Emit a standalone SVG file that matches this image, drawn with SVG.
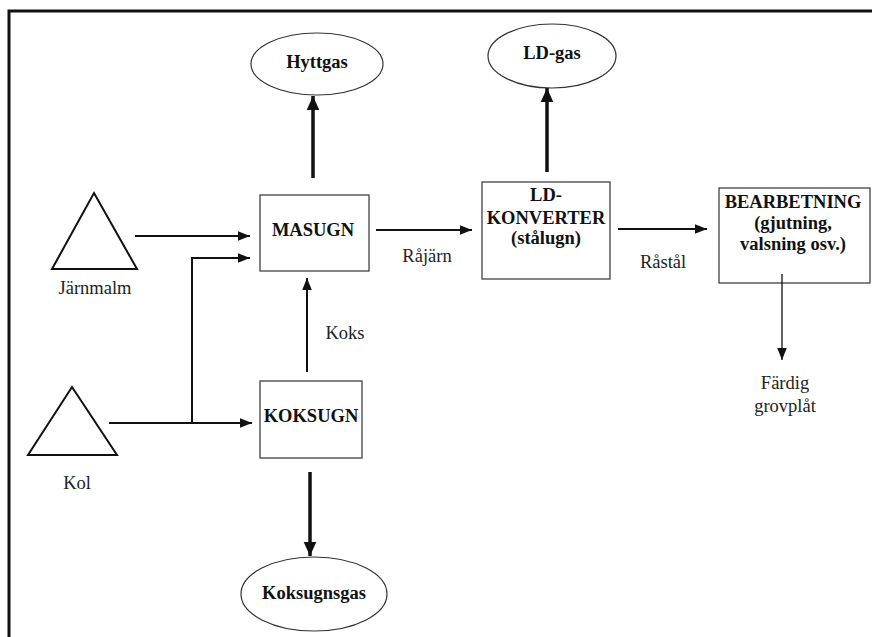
<svg xmlns="http://www.w3.org/2000/svg" width="872" height="637" viewBox="0 0 872 637">
<style>
.box{fill:#fff;stroke:#333;stroke-width:1.2}
.ell{fill:#fff;stroke:#333;stroke-width:1.2}
.tri{fill:#fff;stroke:#111;stroke-width:2}
.b{font-family:'Liberation Serif','Times New Roman',Times,'DejaVu Serif',serif;font-weight:bold;font-size:18.5px;fill:#111;text-anchor:middle}
.r{font-family:'Liberation Serif','Times New Roman',Times,'DejaVu Serif',serif;font-size:18.5px;fill:#222;text-anchor:middle}
.thin{fill:none;stroke:#111;stroke-width:2}
.thick{fill:none;stroke:#111;stroke-width:3.5}
.hair{fill:none;stroke:#111;stroke-width:1.3}
</style>
<defs>
<marker id="ah" markerUnits="userSpaceOnUse" markerWidth="12" markerHeight="12" refX="10" refY="5" orient="auto" viewBox="0 0 10 10"><path d="M0,1 L10,5 L0,9 Z" fill="#111"/></marker>
<marker id="ahb" markerUnits="userSpaceOnUse" markerWidth="14" markerHeight="14" refX="10" refY="5" orient="auto" viewBox="0 0 10 10"><path d="M0,0.5 L10,5 L0,9.5 Z" fill="#111"/></marker>
</defs>
<rect width="872" height="637" fill="#fff"/>
<path d="M9,637 V11 H872" fill="none" stroke="#111" stroke-width="3"/>

<g id="hyttgas"><ellipse class="ell" cx="317" cy="64" rx="66" ry="31"/><text class="b" x="317" y="68">Hyttgas</text></g>
<g id="ldgas"><ellipse class="ell" cx="552" cy="56" rx="64" ry="32"/><text class="b" x="552" y="59">LD-gas</text></g>
<g id="koksugnsgas"><ellipse class="ell" cx="314" cy="594" rx="73" ry="37"/><text class="b" x="314" y="599">Koksugnsgas</text></g>
<g id="masugn"><rect class="box" x="260" y="195" width="109" height="76"/><text class="b" x="313" y="236">MASUGN</text></g>
<g id="koksugn"><rect class="box" x="260" y="381" width="102" height="77"/><text class="b" x="311" y="422">KOKSUGN</text></g>
<g id="ldkonverter"><rect class="box" x="482" y="182" width="128" height="97"/><text class="b" x="546" y="201">LD-</text><text class="b" x="546" y="224">KONVERTER</text><text class="b" x="546" y="244">(stålugn)</text></g>
<g id="bearbetning"><rect class="box" x="719" y="188" width="151" height="95"/><text class="b" x="793" y="208">BEARBETNING</text><text class="b" x="793" y="229">(gjutning,</text><text class="b" x="793" y="250">valsning osv.)</text></g>
<g id="jarnmalm"><polygon class="tri" points="94,193 137,269 52,269"/><text class="r" x="95" y="294">Järnmalm</text></g>
<g id="kol"><polygon class="tri" points="72,387 117,455 28,455"/><text class="r" x="77" y="489">Kol</text></g>
<g id="fardig"><text class="r" x="785" y="389">Färdig</text><text class="r" x="785" y="412">grovplåt</text></g>

<g id="connectors">
<path class="thick" d="M313,178 V96" marker-end="url(#ahb)"/>
<path class="thick" d="M547,172 V88" marker-end="url(#ahb)"/>
<path class="thick" d="M310,472 V556" marker-end="url(#ahb)"/>
<path class="thin" d="M135,236 H250" marker-end="url(#ah)"/>
<path class="thin" d="M192,423 V258 H250" marker-end="url(#ah)"/>
<path class="thin" d="M109,423 H252" marker-end="url(#ah)"/>
<path class="thin" d="M307,372 V278" marker-end="url(#ah)"/>
<path class="thin" d="M376,230 H472" marker-end="url(#ah)"/>
<path class="thin" d="M618,229 H707" marker-end="url(#ah)"/>
<path class="hair" d="M782,274 V360" marker-end="url(#ah)"/>
<text class="r" x="427" y="262">Råjärn</text>
<text class="r" x="663" y="268">Råstål</text>
<text class="r" x="345" y="339">Koks</text>
</g>
</svg>
